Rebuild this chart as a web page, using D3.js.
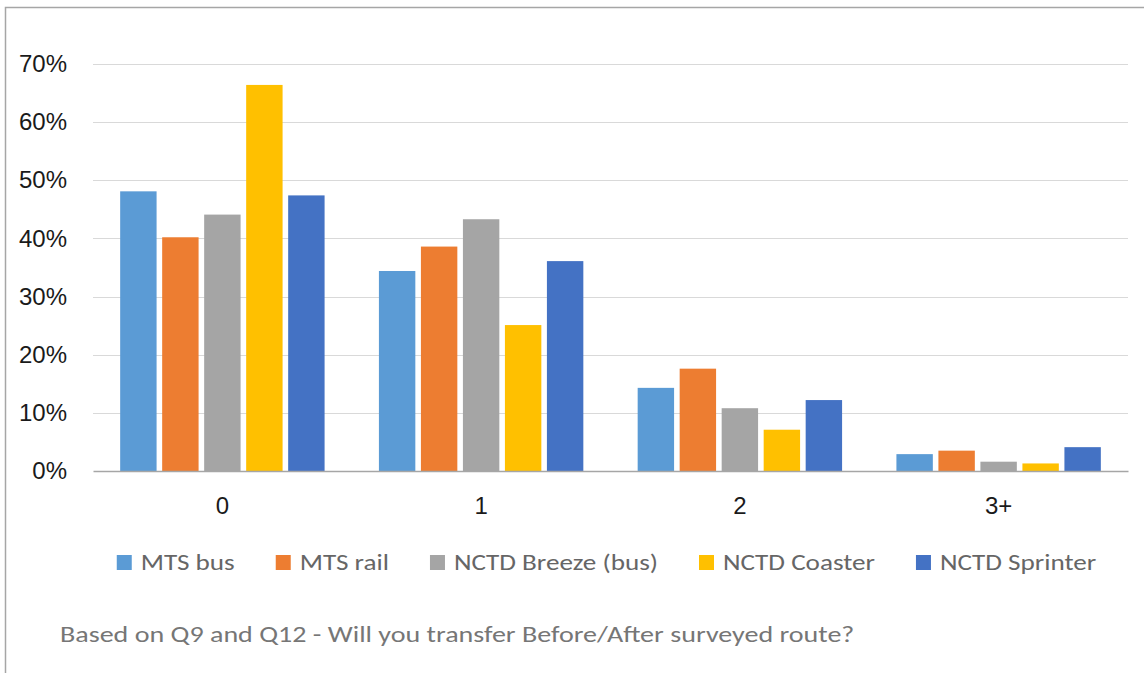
<!DOCTYPE html>
<html>
<head>
<meta charset="utf-8">
<script src="https://cdn.jsdelivr.net/npm/d3@7"></script>
<style>
  html, body { margin: 0; padding: 0; background: #fff; }
  svg { display: block; font-family: Calibri, Carlito, Lato, "Open Sans", sans-serif; }
</style>
</head>
<body>
<div id="chart"></div>
<script>
// 数据
const categories = ["0", "1", "2", "3+"];
const seriesNames = ["MTS bus", "MTS rail", "NCTD Breeze (bus)", "NCTD Coaster", "NCTD Sprinter"];
const seriesColors = ["#5b9bd5", "#ed7d31", "#a5a5a5", "#ffc000", "#4472c4"];
const mtsBus = [48.1, 34.4, 14.3, 2.9];
const mtsRail = [40.2, 38.6, 17.6, 3.5];
const nctdBreeze = [44.1, 43.3, 10.8, 1.6];
const nctdCoaster = [66.4, 25.1, 7.1, 1.3];
const nctdSprinter = [47.4, 36.1, 12.2, 4.1];
const yTicks = [0, 10, 20, 30, 40, 50, 60, 70];
const footnote = "Based on Q9 and Q12 - Will you transfer Before/After surveyed route?";

const seriesValues = [mtsBus, mtsRail, nctdBreeze, nctdCoaster, nctdSprinter];

const W = 1144, H = 673;
const margin = { left: 93, right: 16, top: 64, bottom: 202 };

const svg = d3.select("#chart").append("svg")
  .attr("width", W).attr("height", H);

// 外框
svg.append("path")
  .attr("d", `M5.5,${H}V7.5H${W}`)
  .attr("fill", "none")
  .attr("stroke", "#a6a6a6")
  .attr("stroke-width", 1.5);

// 比例尺
const x0 = d3.scaleBand()
  .domain(categories)
  .range([margin.left, W - margin.right])
  .paddingInner(0.21)
  .paddingOuter(0.105);
const x1 = d3.scaleBand()
  .domain(seriesNames)
  .range([0, x0.bandwidth()])
  .paddingInner(0.133)
  .paddingOuter(0);
const y = d3.scaleLinear()
  .domain([0, 70])
  .range([H - margin.bottom, margin.top]);

// 网格线
svg.append("g")
  .selectAll("line")
  .data(yTicks.filter(d => d > 0))
  .join("line")
  .attr("x1", margin.left).attr("x2", W - margin.right)
  .attr("y1", d => Math.round(y(d)) + 0.5).attr("y2", d => Math.round(y(d)) + 0.5)
  .attr("stroke", "#d9d9d9")
  .attr("stroke-width", 1);

// Y 轴标签
const yAxis = svg.append("g")
  .attr("transform", `translate(${margin.left - 26},0)`)
  .call(d3.axisLeft(y).tickValues(yTicks).tickFormat(d => d + "%").tickSize(0).tickPadding(0));
yAxis.select(".domain").remove();
yAxis.selectAll("text")
  .attr("font-size", 24)
  .attr("fill", "#1a1a1a")
  .style("font-family", "inherit");

// 柱子
const groups = svg.append("g")
  .selectAll("g")
  .data(categories)
  .join("g")
  .attr("transform", d => `translate(${x0(d)},0)`);

groups.selectAll("rect")
  .data((c, i) => seriesNames.map((s, j) => ({ s, j, v: seriesValues[j][i] })))
  .join("rect")
  .attr("x", d => x1(d.s))
  .attr("width", x1.bandwidth())
  .attr("y", d => y(d.v))
  .attr("height", d => y(0) - y(d.v))
  .attr("fill", d => seriesColors[d.j]);

// X 轴
const xAxis = svg.append("g")
  .attr("transform", `translate(0,${y(0)})`)
  .call(d3.axisBottom(x0).tickSize(0).tickPadding(26));
xAxis.select(".domain")
  .attr("stroke", "#a6a6a6")
  .attr("stroke-width", 1.5);
xAxis.selectAll("text")
  .attr("font-size", 24)
  .attr("fill", "#1a1a1a")
  .style("font-family", "inherit");

// 图例（文字横向拉伸，贴近原图的宽字形）
const stretch = 1.18;
const legend = svg.append("g");
const items = legend.selectAll("g")
  .data(seriesNames)
  .join("g");
items.append("rect")
  .attr("width", 15).attr("height", 15)
  .attr("y", -15)
  .attr("fill", (d, i) => seriesColors[i]);
items.append("text")
  .attr("transform", `scale(${stretch},1)`)
  .attr("x", 24 / stretch)
  .attr("font-size", 23)
  .attr("fill", "#666666")
  .text(d => d);

let cursor = 0;
const gap = 41;
items.each(function () {
  const g = d3.select(this);
  g.attr("transform", `translate(${cursor},0)`);
  cursor += 24 + g.select("text").node().getComputedTextLength() * stretch + gap;
});
const legendWidth = cursor - gap;
const legendStart = (margin.left + W - margin.right) / 2 - 4 - legendWidth / 2;
legend.attr("transform", `translate(${legendStart},570)`);

// 脚注
const footStretch = 1.22;
svg.append("text")
  .attr("transform", `scale(${footStretch},1)`)
  .attr("x", 60 / footStretch)
  .attr("y", 642)
  .attr("font-size", 23)
  .attr("fill", "#767676")
  .text(footnote);
</script>
</body>
</html>
